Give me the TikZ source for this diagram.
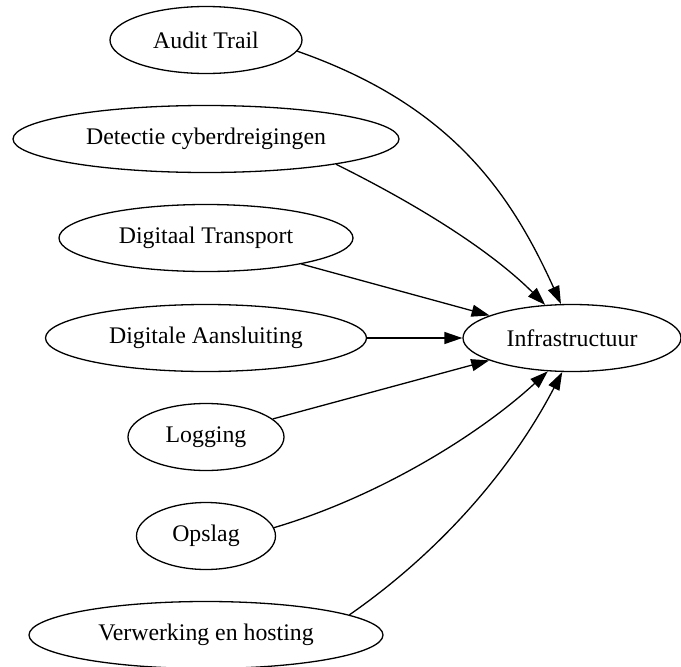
\documentclass[tikz,border=0pt]{standalone}
\usepackage{fontspec}
\setmainfont{Liberation Serif}
\usepackage{tikz}
\usetikzlibrary{shapes.geometric,arrows.meta}
\usepackage{tikz-dependency}

\begin{document}
\begin{tikzpicture}[x=1pt, y=-1pt]
                \depstyle{cjob}{ellipse, line width=1.3pt, draw=black, fill=white, inner sep=0pt, minimum height=67pt, font=\fontsize{23.8}{28}\selectfont}
                \depstyle{carrow}{-{Triangle[length=18pt, width=12pt]}, line width=1.3pt}
                \useasboundingbox (0, 0) rectangle (681, 667);
                % Вершины слева, общая цель справа:
                \node[cjob, minimum width=192pt] (audit)  at (206, 40)  {Audit Trail};
                \node[cjob, minimum width=386pt] (detect) at (206, 139) {Detectie cyberdreigingen};
                \node[cjob, minimum width=294pt] (transp) at (206, 238) {Digitaal Transport};
                \node[cjob, minimum width=321pt] (aansl)  at (206, 338) {Digitale Aansluiting};
                \node[cjob, minimum width=156pt] (log)    at (206, 437) {Logging};
                \node[cjob, minimum width=139pt] (opsl)   at (206, 536) {Opslag};
                \node[cjob, minimum width=354pt] (verw)   at (206, 635) {Verwerking en hosting};

                \node[cjob, minimum width=218pt] (infra)  at (572, 338) {Infrastructuur};

                \draw[carrow] (audit.-7)  .. controls (448, 104) and (509, 189) .. (infra.108);
                \draw[carrow] (detect.-11) .. controls (418, 205) and (490, 250) .. (infra.129);
                \draw[carrow] (transp) -- (infra);
                \draw[carrow] (aansl)  -- (infra);
                \draw[carrow] (log)    -- (infra);
                \draw[carrow] (opsl.7)   .. controls (381, 496) and (481, 433) .. (infra.234);
                \draw[carrow] (verw.8)   .. controls (434, 556) and (508, 476) .. (infra.254);
            \end{tikzpicture}
\end{document}
